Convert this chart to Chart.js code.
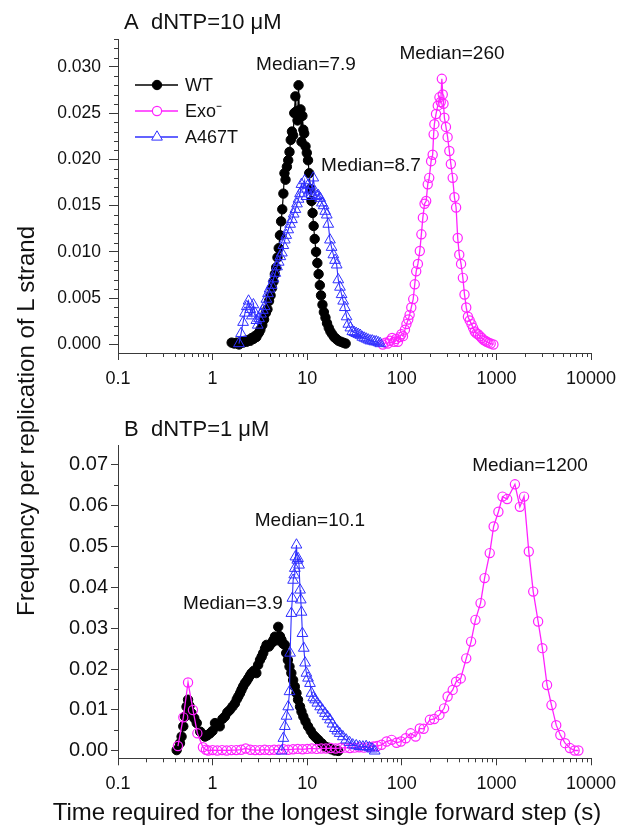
<!DOCTYPE html>
<html>
<head>
<meta charset="utf-8">
<script src="https://cdn.jsdelivr.net/npm/chart.js@4.4.0/dist/chart.umd.min.js"></script>
<style>
  body { margin: 0; background: #fff; }
  #wrap { position: relative; width: 625px; height: 832px; font-family: "Liberation Sans", Arial, sans-serif; color: #111; }
  #wrap canvas { position: absolute; left: 0; }
  .txt { position: absolute; white-space: nowrap; line-height: 1; }
  .c { transform: translate(-50%, -50%); }
</style>
</head>
<body>
<div id="wrap">
  <canvas id="chartA" width="625" height="400" style="top:0"></canvas>
  <canvas id="chartB" width="625" height="400" style="top:400px"></canvas>

  <div class="txt" style="left:124px; top:11px; font-size:22px">A&nbsp;&nbsp;dNTP=10 μM</div>
  <div class="txt" style="left:124px; top:418px; font-size:22px">B&nbsp;&nbsp;dNTP=1 μM</div>

  <div class="txt c" style="left:306px; top:63px; font-size:19px">Median=7.9</div>
  <div class="txt c" style="left:452px; top:52px; font-size:19px">Median=260</div>
  <div class="txt c" style="left:371px; top:164px; font-size:19px">Median=8.7</div>
  <div class="txt c" style="left:233px; top:602px; font-size:19px">Median=3.9</div>
  <div class="txt c" style="left:310px; top:519px; font-size:19px">Median=10.1</div>
  <div class="txt c" style="left:530px; top:464px; font-size:19px">Median=1200</div>

  <div class="txt" style="left:26px; top:421px; font-size:24px; transform: translate(-50%, -50%) rotate(-90deg)">Frequency per replication of L strand</div>
  <div class="txt c" style="left:327px; top:812px; font-size:24px">Time required for the longest single forward step (s)</div>
</div>

<script>
// ---- data ----
var seriesNames = ["WT", "Exo\u207B", "A467T"];
var xTicks = [0.1, 1, 10, 100, 1000, 10000];
var yTicksA = [0, 0.005, 0.01, 0.015, 0.02, 0.025, 0.03];
var yTicksB = [0, 0.01, 0.02, 0.03, 0.04, 0.05, 0.06, 0.07];

// panel A, dNTP = 10 uM
var aWtX = [1.59, 1.7, 1.8, 1.9, 2.0, 2.1, 2.2, 2.3, 2.4, 2.5, 2.6, 2.7, 2.8, 2.9, 3.0, 3.1, 3.2, 3.35, 3.5, 3.65, 3.8, 3.95, 4.1, 4.25, 4.4, 4.55, 4.7, 4.85, 5.0, 5.15, 5.3, 5.45, 5.6, 5.75, 5.9, 6.1, 6.3, 6.5, 6.7, 6.9, 7.1, 7.3, 7.5, 7.7, 7.9, 8.1, 8.3, 8.5, 8.7, 8.9, 9.1, 9.3, 9.6, 9.9, 10.2, 10.5, 10.8, 11.1, 11.4, 11.7, 12.0, 12.4, 12.8, 13.2, 13.6, 14.0, 14.5, 15.0, 15.6, 16.2, 16.9, 17.6, 18.4, 19.3, 20.3, 21.4, 22.6, 24.0, 25.5];
var aWtY = [0.0002, 0.0001, 0.0002, 0.0000, 0.0003, 0.0002, 0.0004, 0.0003, 0.0005, 0.0004, 0.0007, 0.0006, 0.0009, 0.0008, 0.0011, 0.0013, 0.0016, 0.0021, 0.0027, 0.0034, 0.0038, 0.0047, 0.0053, 0.0061, 0.0068, 0.0076, 0.0083, 0.0094, 0.0104, 0.0118, 0.0133, 0.0146, 0.0163, 0.0185, 0.0178, 0.0192, 0.0199, 0.0208, 0.0221, 0.0230, 0.0226, 0.0250, 0.0268, 0.0252, 0.0242, 0.0280, 0.0245, 0.0254, 0.0219, 0.0247, 0.0232, 0.0228, 0.0214, 0.0207, 0.0199, 0.0185, 0.0168, 0.0155, 0.0142, 0.0128, 0.0114, 0.0100, 0.0088, 0.0076, 0.0064, 0.0053, 0.0043, 0.0035, 0.0029, 0.0023, 0.0018, 0.0014, 0.0011, 0.0008, 0.0006, 0.0004, 0.0003, 0.0002, 0.0001];

var aExoX = [63, 67, 71, 75, 79, 83, 87, 91, 95, 99, 103, 108, 112, 117, 121, 126, 132, 137, 142, 148, 155, 161, 167, 174, 181, 188, 195, 204, 212, 217, 221, 230, 240, 250, 258, 265, 271, 276, 282, 293, 305, 318, 330, 345, 360, 375, 390, 405, 423, 442, 460, 480, 500, 522, 545, 567, 590, 615, 640, 670, 700, 730, 760, 790, 825, 870, 930];
var aExoY = [0.0000, 0.0002, 0.0001, 0.0004, 0.0007, 0.0003, 0.0006, 0.0003, 0.0008, 0.0011, 0.0009, 0.0016, 0.0022, 0.0027, 0.0032, 0.0040, 0.0049, 0.0065, 0.0079, 0.0087, 0.0101, 0.0119, 0.0137, 0.0152, 0.0155, 0.0173, 0.0180, 0.0198, 0.0205, 0.0227, 0.0238, 0.0249, 0.0258, 0.0267, 0.0262, 0.0287, 0.0270, 0.0260, 0.0245, 0.0235, 0.0224, 0.0209, 0.0195, 0.0180, 0.0159, 0.0148, 0.0115, 0.0097, 0.0087, 0.0072, 0.0054, 0.0040, 0.0030, 0.0026, 0.0022, 0.0018, 0.0014, 0.0012, 0.0011, 0.0009, 0.0007, 0.0005, 0.0004, 0.0003, 0.0002, 0.0001, 0.0000];

var aMutX = [1.9, 2.0, 2.1, 2.2, 2.3, 2.4, 2.5, 2.6, 2.7, 2.8, 2.9, 3.0, 3.1, 3.25, 3.4, 3.55, 3.7, 3.85, 4.0, 4.2, 4.4, 4.6, 4.8, 5.0, 5.2, 5.4, 5.6, 5.8, 6.0, 6.3, 6.6, 6.9, 7.2, 7.5, 7.8, 8.1, 8.4, 8.7, 9.0, 9.4, 9.8, 10.2, 10.7, 11.1, 11.6, 12.1, 12.6, 13.1, 13.7, 14.3, 14.9, 15.5, 16.1, 16.7, 17.4, 18.1, 18.9, 19.7, 20.5, 21.3, 22.2, 23.1, 24.0, 25.0, 26.1, 27.2, 28.6, 30.0, 31.5, 33.0, 34.7, 36.4, 38.2, 40.1, 42.1, 44.2, 46.4, 48.7, 51.1, 53.7, 56.4, 59.2];
var aMutY = [0.0001, 0.0012, 0.0024, 0.0034, 0.0041, 0.0047, 0.0038, 0.0031, 0.0043, 0.0034, 0.0026, 0.0021, 0.0028, 0.0033, 0.0037, 0.0041, 0.0049, 0.0055, 0.0060, 0.0064, 0.0071, 0.0077, 0.0084, 0.0089, 0.0095, 0.0099, 0.0107, 0.0113, 0.0118, 0.0124, 0.0130, 0.0135, 0.0141, 0.0146, 0.0152, 0.0157, 0.0163, 0.0173, 0.0168, 0.0177, 0.0160, 0.0172, 0.0167, 0.0162, 0.0180, 0.0165, 0.0160, 0.0161, 0.0158, 0.0153, 0.0150, 0.0144, 0.0140, 0.0130, 0.0113, 0.0105, 0.0097, 0.0091, 0.0086, 0.0070, 0.0062, 0.0054, 0.0047, 0.0040, 0.0030, 0.0022, 0.0018, 0.0014, 0.0013, 0.0012, 0.0011, 0.0010, 0.0008, 0.0007, 0.0006, 0.0005, 0.0004, 0.0004, 0.0003, 0.0003, 0.0002, 0.0001];

// panel B, dNTP = 1 uM
var bWtX = [0.417, 0.452, 0.47, 0.49, 0.51, 0.53, 0.55, 0.57, 0.60, 0.64, 0.68, 0.74, 0.79, 0.83, 0.88, 0.94, 1.0, 1.06, 1.12, 1.19, 1.27, 1.35, 1.43, 1.52, 1.62, 1.72, 1.8, 1.87, 1.95, 2.02, 2.1, 2.19, 2.28, 2.38, 2.48, 2.58, 2.74, 2.9, 3.03, 3.17, 3.3, 3.43, 3.58, 3.72, 3.95, 4.2, 4.38, 4.56, 4.75, 4.94, 5.15, 5.35, 5.55, 5.8, 6.0, 6.25, 6.5, 6.8, 7.1, 7.4, 7.7, 8.0, 8.4, 8.7, 9.1, 9.6, 10.2, 10.9, 11.6, 12.3, 13.1, 14.2, 15.4, 16.7, 18.0, 19.5, 21.3];
var bWtY = [0.0002, 0.0019, 0.0035, 0.0060, 0.0084, 0.0108, 0.0125, 0.0110, 0.0092, 0.0080, 0.0068, 0.0047, 0.0040, 0.0035, 0.0038, 0.0043, 0.0049, 0.0068, 0.0064, 0.0060, 0.0078, 0.0084, 0.0094, 0.0100, 0.0108, 0.0116, 0.0126, 0.0133, 0.0141, 0.0149, 0.0157, 0.0165, 0.0170, 0.0177, 0.0184, 0.0190, 0.0196, 0.0190, 0.0210, 0.0222, 0.0230, 0.0239, 0.0250, 0.0259, 0.0255, 0.0263, 0.0270, 0.0279, 0.0270, 0.0303, 0.0280, 0.0271, 0.0262, 0.0259, 0.0239, 0.0222, 0.0206, 0.0190, 0.0173, 0.0157, 0.0141, 0.0125, 0.0108, 0.0096, 0.0084, 0.0072, 0.0060, 0.0049, 0.0039, 0.0033, 0.0027, 0.0019, 0.0011, 0.0008, 0.0004, 0.0001, 0.0000];

var bExoX = [0.43, 0.49, 0.55, 0.62, 0.69, 0.79, 0.85, 0.9, 1.0, 1.12, 1.26, 1.41, 1.58, 1.78, 2.0, 2.24, 2.51, 2.82, 3.16, 3.55, 3.98, 4.47, 5.01, 5.62, 6.31, 7.08, 7.94, 8.91, 10.0, 11.2, 12.6, 14.1, 15.8, 17.8, 20.0, 22.4, 25.1, 28.2, 31.6, 35.5, 39.8, 44.7, 50.1, 55.0, 61, 69, 78, 88, 98, 110, 124, 140, 155, 170, 198, 220, 250, 280, 305, 345, 375, 420, 480, 540, 600, 680, 750, 850, 935, 1050, 1160, 1300, 1570, 1770, 1960, 2200, 2450, 2760, 3060, 3430, 3820, 4290, 4740, 5320, 5980, 6710, 7360];
var bExoY = [0.0012, 0.0082, 0.0167, 0.0100, 0.0043, 0.0009, 0.0003, 0.0001, 0.0002, 0.0001, 0.0002, 0.0001, 0.0002, 0.0002, 0.0003, 0.0006, 0.0003, 0.0002, 0.0002, 0.0003, 0.0002, 0.0003, 0.0003, 0.0004, 0.0003, 0.0004, 0.0005, 0.0004, 0.0005, 0.0006, 0.0005, 0.0006, 0.0006, 0.0007, 0.0006, 0.0007, 0.0008, 0.0007, 0.0008, 0.0009, 0.0008, 0.0010, 0.0011, 0.0012, 0.0015, 0.0023, 0.0027, 0.0020, 0.0023, 0.0031, 0.0043, 0.0035, 0.0055, 0.0054, 0.0076, 0.0078, 0.0088, 0.0104, 0.0133, 0.0149, 0.0169, 0.0177, 0.0226, 0.0267, 0.0320, 0.0361, 0.0422, 0.0483, 0.0548, 0.0584, 0.0621, 0.0615, 0.0651, 0.0596, 0.0621, 0.0487, 0.0389, 0.0316, 0.0251, 0.0161, 0.0112, 0.0063, 0.0039, 0.0019, 0.0007, 0.0001, 0.0001];

var bMutX = [5.37, 5.6, 5.8, 6.05, 6.3, 6.5, 6.6, 6.8, 6.97, 7.1, 7.3, 7.4, 7.5, 7.7, 7.85, 8.0, 8.2, 8.4, 8.55, 8.7, 8.9, 9.2, 9.5, 9.8, 10.2, 10.7, 11.1, 11.6, 12.1, 12.8, 13.7, 14.5, 15.4, 16.4, 17.4, 18.5, 19.6, 20.8, 22.0, 23.8, 25.8, 28.0, 30.3, 33.0, 35.8, 38.8, 42.0, 45.5, 48.5, 51.7];
var bMutY = [0.0000, 0.0031, 0.0060, 0.0085, 0.0108, 0.0145, 0.0239, 0.0336, 0.0373, 0.0417, 0.0430, 0.0446, 0.0474, 0.0503, 0.0466, 0.0470, 0.0454, 0.0393, 0.0369, 0.0339, 0.0287, 0.0251, 0.0215, 0.0190, 0.0178, 0.0165, 0.0141, 0.0130, 0.0125, 0.0117, 0.0108, 0.0100, 0.0092, 0.0084, 0.0076, 0.0066, 0.0055, 0.0049, 0.0043, 0.0035, 0.0027, 0.0021, 0.0015, 0.0013, 0.0011, 0.0010, 0.0011, 0.0008, 0.0005, 0.0000];

// ---- styles ----
var axisColor = "#3a3a3a";
var wtColor = "#000000";
var exoColor = "#ff22ff";
var mutColor = "#2f2fff";
var fontFam = "'Liberation Sans', Arial, sans-serif";

function pts(xs, ys) {
  return xs.map(function (x, i) { return { x: x, y: ys[i] }; });
}

function makeSets(wtX, wtY, exoX, exoY, mutX, mutY) {
  return [
    { label: seriesNames[0], data: pts(wtX, wtY), showLine: true, tension: 0,
      borderColor: wtColor, borderWidth: 1.2, pointStyle: "circle", pointRadius: 4.7,
      pointBackgroundColor: wtColor, pointBorderColor: wtColor, pointBorderWidth: 1, order: 3 },
    { label: seriesNames[1], data: pts(exoX, exoY), showLine: true, tension: 0,
      borderColor: exoColor, borderWidth: 1.3, pointStyle: "circle", pointRadius: 4.6,
      pointBackgroundColor: "rgba(255,255,255,0)", pointBorderColor: exoColor, pointBorderWidth: 1.2, order: 2 },
    { label: seriesNames[2], data: pts(mutX, mutY), showLine: true, tension: 0,
      borderColor: mutColor, borderWidth: 1.1, pointStyle: "triangle", pointRadius: 6.2,
      pointBackgroundColor: "rgba(255,255,255,0)", pointBorderColor: mutColor, pointBorderWidth: 1, order: 1 }
  ];
}

// small ticks between the labelled ones
var minorTicks = {
  id: "minorTicks",
  afterDraw: function (chart, args, opts) {
    var ctx = chart.ctx, area = chart.chartArea;
    var xs = chart.scales.x, ys = chart.scales.y;
    ctx.save();
    ctx.strokeStyle = axisColor;
    ctx.lineWidth = 1;
    ctx.beginPath();
    for (var k = -1; k < 4; k++) {
      for (var m = 2; m < 10; m++) {
        var px = Math.round(xs.getPixelForValue(m * Math.pow(10, k))) + 0.5;
        ctx.moveTo(px, area.bottom);
        ctx.lineTo(px, area.bottom + 4);
      }
    }
    for (var i = 1; i * opts.yStep <= ys.max + 1e-9; i++) {
      if (i % opts.every === 0) continue;
      var py = Math.round(ys.getPixelForValue(i * opts.yStep)) + 0.5;
      ctx.moveTo(area.left, py);
      ctx.lineTo(area.left - 4, py);
    }
    ctx.stroke();
    ctx.restore();
  }
};

function drawMarker(ctx, style, r, x, y, fill, stroke, lw) {
  ctx.beginPath();
  if (style === "triangle") {
    for (var i = 0; i < 3; i++) {
      var a = i * 2 * Math.PI / 3;
      var px = x + Math.sin(a) * r, py = y - Math.cos(a) * r;
      if (i) ctx.lineTo(px, py); else ctx.moveTo(px, py);
    }
    ctx.closePath();
  } else {
    ctx.arc(x, y, r, 0, Math.PI * 2);
  }
  ctx.fillStyle = fill;
  ctx.fill();
  ctx.lineWidth = lw;
  ctx.strokeStyle = stroke;
  ctx.stroke();
}

// legend: line - marker - line, then the name
var lineLegend = {
  id: "lineLegend",
  afterDraw: function (chart, args, opts) {
    if (!opts.show) return;
    var ctx = chart.ctx;
    ctx.save();
    chart.data.datasets.forEach(function (ds, i) {
      var y = opts.top + i * opts.gap;
      ctx.beginPath();
      ctx.moveTo(opts.left, y);
      ctx.lineTo(opts.left + 43, y);
      ctx.lineWidth = 1.5;
      ctx.strokeStyle = ds.borderColor;
      ctx.stroke();
      drawMarker(ctx, ds.pointStyle, ds.pointRadius, opts.left + 22, y,
        ds.pointBackgroundColor === wtColor ? wtColor : "#fff", ds.pointBorderColor, ds.pointBorderWidth);
      ctx.fillStyle = "#111";
      ctx.font = "18px " + fontFam;
      ctx.textBaseline = "middle";
      ctx.fillText(ds.label, opts.left + 50, y + 1);
    });
    ctx.restore();
  }
};

function makeChart(id, sets, yMin, yMax, yTicks, yDec, yFont, yTickLen, yPad, padTop, xHeight, yStep, every, showLegend) {
  return new Chart(document.getElementById(id), {
    type: "scatter",
    data: { datasets: sets },
    options: {
      responsive: false,
      animation: false,
      devicePixelRatio: 1,
      layout: { padding: { top: padTop, right: 34, left: 0, bottom: 0 } },
      elements: { point: { hoverRadius: 5 }, line: { fill: false } },
      plugins: {
        legend: { display: false },
        tooltip: { enabled: false },
        minorTicks: { yStep: yStep, every: every },
        lineLegend: { show: showLegend, left: 135, top: 85, gap: 26 }
      },
      scales: {
        x: {
          type: "logarithmic",
          min: 0.1, max: 10000,
          afterBuildTicks: function (s) { s.ticks = xTicks.map(function (v) { return { value: v, major: true }; }); },
          afterFit: function (s) { s.height = xHeight; },
          border: { display: true, color: axisColor, width: 1 },
          grid: { drawOnChartArea: false, drawTicks: true, tickLength: 7, tickColor: axisColor },
          ticks: { autoSkip: false, maxRotation: 0, minRotation: 0, padding: 8, color: "#111",
            font: { family: fontFam, size: 18 },
            callback: function (v) { return String(v); } }
        },
        y: {
          type: "linear",
          min: yMin, max: yMax,
          afterBuildTicks: function (s) { s.ticks = yTicks.map(function (v) { return { value: v }; }); },
          afterFit: function (s) { s.width = 118; },
          border: { display: true, color: axisColor, width: 1 },
          grid: { drawOnChartArea: false, drawTicks: true, tickLength: yTickLen, tickColor: axisColor },
          ticks: { padding: yPad, color: "#111", font: { family: fontFam, size: yFont },
            callback: function (v) { return Number(v).toFixed(yDec); } }
        }
      }
    },
    plugins: [minorTicks, lineLegend]
  });
}

makeChart("chartA", makeSets(aWtX, aWtY, aExoX, aExoY, aMutX, aMutY),
  -0.00092, 0.033, yTicksA, 3, 17.5, 9, 8, 39, 47, 0.001, 5, true);
makeChart("chartB", makeSets(bWtX, bWtY, bExoX, bExoY, bMutX, bMutY),
  -0.0018, 0.0747, yTicksB, 2, 20, 7, 3, 45, 41.7, 0.005, 2, false);
</script>
</body>
</html>
